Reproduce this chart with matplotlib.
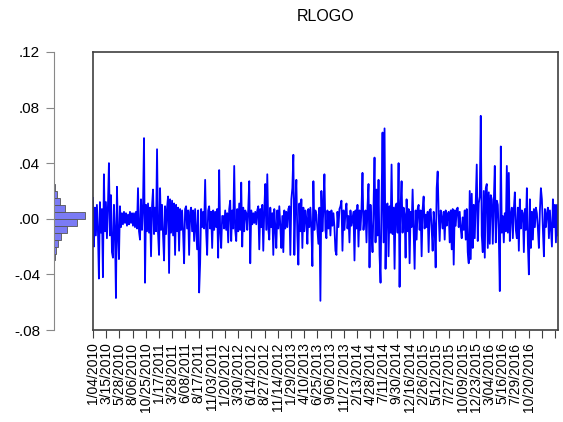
import numpy as np
import matplotlib.pyplot as plt

plt.rcParams['font.family'] = ['Liberation Sans', 'DejaVu Sans']

# daily log returns (RLOGO), in thousandths
rlogo = [
    15, -20, 8, -12, 10, -8, -43, 12, -10, 7,
    -42, 32, -9, 12, -14, 9, 40, -12, 17, -24,
    -28, 10, -8, -57, 23, -10, -29, 9, -6, 4,
    -4, 5, -3, 4, -5, 3, -4, 5, -3, 4,
    -5, 4, -6, 5, -7, 22, -9, -15, 14, -8,
    9, 58, -46, 10, -9, 11, -10, 8, -27, 9,
    21, -11, 8, -9, 50, -10, -26, 22, -8, 10,
    -12, -30, 9, -11, 8, 16, -39, 14, -10, 13,
    -12, 11, -26, 10, -9, 8, -23, 7, -8, 6,
    -10, -32, 7, 9, -7, 6, -26, 5, 8, -9,
    6, -16, 7, -8, -22, 6, -53, -32, 7, -6,
    5, -7, 28, -9, -26, 6, 9, -7, 5, -21,
    6, -8, 5, -6, 7, -28, 35, -9, -21, 2,
    2, -7, 6, -8, 4, -17, 7, 13, -16, 6,
    -7, 38, -8, -16, 7, -9, 11, -8, 26, -20,
    8, -9, 6, 4, -8, 7, 27, -32, 6, -4,
    4, -3, 5, -4, 6, 9, -22, 7, -6, 10,
    -23, 6, 25, -8, 32, -7, -15, 8, -6, 4,
    -26, 7, -6, -21, 6, -7, 9, -5, -21, 2,
    -24, 6, -7, 5, -6, 7, 9, -26, 14, 22,
    46, -26, 10, 28, -12, -33, 11, -9, 14, -21,
    8, -9, 6, 0, -18, 7, -6, 8, -7, -34,
    27, -8, 6, 3, -7, -18, 8, -59, 20, -9,
    7, 32, -8, -14, 6, -7, 5, -12, 6, -5,
    4, -6, -23, -26, 5, -6, 7, 9, 13, -23,
    6, -8, 5, 11, -7, 2, -17, 6, -5, 0,
    5, -30, 6, -7, 10, -20, 6, -8, 7, 33,
    -8, 3, 6, -17, 9, 25, -35, 10, -9, -24,
    8, 44, -17, 21, -12, 28, -26, -46, 12, 62,
    -17, 65, -36, 10, 11, -27, 9, -10, 39, -11,
    8, -36, 9, 11, -10, 40, -49, 9, 27, -10,
    8, 3, -28, 14, -9, 7, -32, 5, -6, 21,
    -8, -36, 6, -15, 7, 10, -8, 6, -27, 7,
    16, -7, 3, -6, 5, -24, 6, 7, -7, -23,
    5, -6, -35, 22, 34, 3, -16, 6, 1, -7,
    5, -15, 6, -5, 3, 5, -17, 6, -22, 7,
    -33, 6, -5, 7, 8, -6, 5, -7, -14, 1,
    -8, 6, -15, 7, -24, -32, 20, -29, 18, -21,
    10, -14, 12, 39, -16, 11, 16, 74, -12, -24,
    20, -28, 22, 25, -21, 19, -18, 17, 14, -18,
    12, 38, -17, 13, 10, -12, -52, 52, -10, 2,
    -17, 4, -9, 38, -10, 33, -16, 3, 8, -14,
    7, 19, -8, -14, 8, -23, 14, -7, 6, 4,
    -24, 7, -8, 22, -18, -40, 14, -21, 5, -15,
    7, -6, 8, 4, -7, -21, 6, 22, 14, -8,
    -27, 7, -6, 4, 8, -14, 6, -7, -20, 14,
    -6, 10, -17, 10, -12,
]

date_labels = ['1/04/2010', '3/15/2010', '5/28/2010', '8/06/2010', '10/25/2010',
               '1/17/2011', '3/28/2011', '6/08/2011', '8/17/2011', '11/03/2011',
               '1/20/2012', '3/30/2012', '6/14/2012', '8/27/2012', '11/14/2012',
               '1/29/2013', '4/10/2013', '6/25/2013', '9/06/2013', '11/27/2013',
               '2/13/2014', '4/28/2014', '7/11/2014', '9/30/2014', '12/16/2014',
               '2/26/2015', '5/12/2015', '7/27/2015', '10/09/2015', '12/23/2015',
               '3/04/2016', '5/16/2016', '7/29/2016', '10/20/2016']

# histogram of the returns (bin edges every .005)
hist_edges = [-0.035, -0.030, -0.025, -0.020, -0.015, -0.010, -0.005, 0.0,
              0.005, 0.010, 0.015, 0.020, 0.025, 0.030, 0.035]
hist_counts = [8, 25, 50, 95, 170, 320, 560, 750, 270, 145, 75, 35, 12, 10]

n_obs = 1762
obs = np.linspace(0, n_obs - 1, len(rlogo))
values = np.array(rlogo) / 1000.0

fig = plt.figure(figsize=(5.63, 4.22), dpi=100)
ax = fig.add_axes([0.165, 0.218, 0.826, 0.659])
axh = fig.add_axes([0.0959, 0.218, 0.07, 0.659])

ax.plot(obs, values, color='#0000ff', lw=1.3)
ax.set_xlim(0, n_obs - 1)
ax.set_ylim(-0.08, 0.12)
ax.set_yticks([])
ticks = np.arange(0, n_obs, 50)
ax.set_xticks(ticks)
ax.set_xticklabels(date_labels + [''] * (len(ticks) - len(date_labels)),
                   rotation=90, fontsize=10)
ax.tick_params(axis='x', direction='out', length=6, width=0.8, pad=3, color='#404040')
for s in ax.spines.values():
    s.set_color('#404040')
    s.set_linewidth(1.2)
ax.set_title('RLOGO', fontsize=11.5, pad=22)

# left histogram with the value axis
axh.barh(hist_edges[:-1], hist_counts, height=0.005, align='edge',
         color='#7b7bf5', edgecolor='#555555', linewidth=0.6)
axh.set_ylim(-0.08, 0.12)
axh.set_xlim(0, max(hist_counts) * 39 / 31)
axh.set_yticks([-0.08, -0.04, 0.0, 0.04, 0.08, 0.12])
axh.set_yticklabels(['-.08', '-.04', '.00', '.04', '.08', '.12'], fontsize=11)
axh.set_xticks([])
axh.tick_params(axis='y', direction='out', length=6, width=0.8, color='#888888', pad=4)
for k in ['top', 'right', 'bottom']:
    axh.spines[k].set_visible(False)
axh.spines['left'].set_color('#888888')
axh.patch.set_alpha(0)

fig.savefig('out.png', dpi=100)
